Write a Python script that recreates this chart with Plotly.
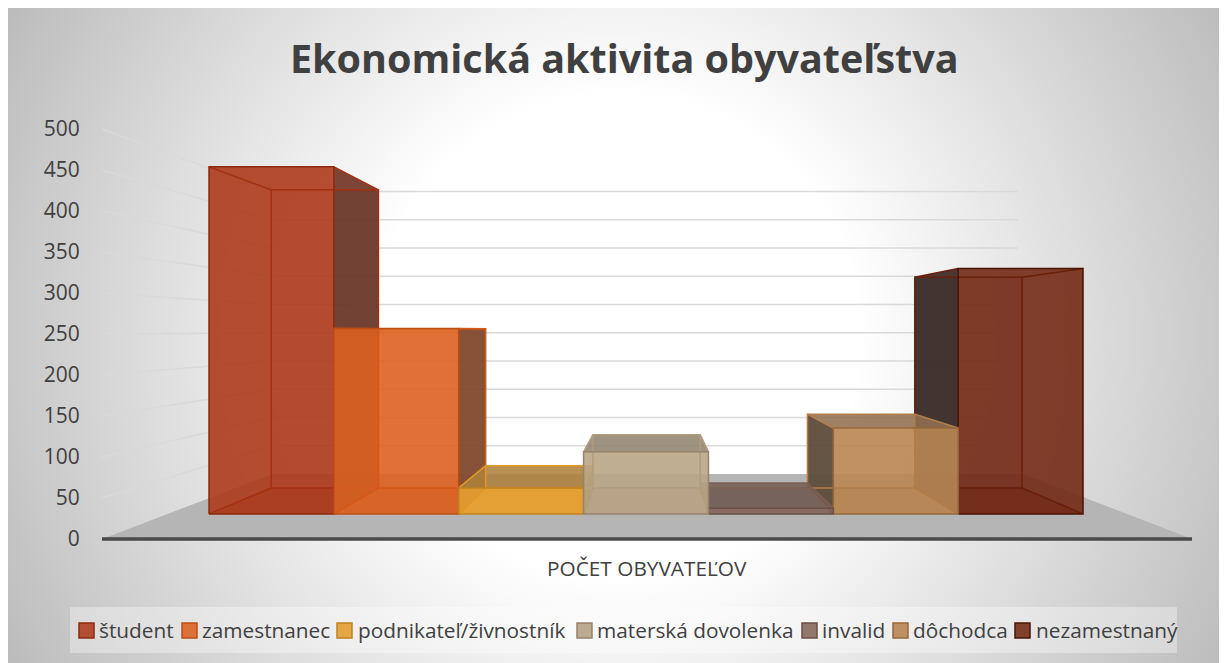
import base64
import plotly.graph_objects as go

# ---- data ----
categories = ["študent", "zamestnanec", "podnikateľ/živnostník", "materská dovolenka",
              "invalid", "dôchodca", "nezamestnaný"]
values = [481, 257, 36, 86, 8, 119, 340]
colors = ["#A5300F", "#D55816", "#E19825", "#B19C7D", "#7F5F52", "#B27D49", "#6A1F09"]
edges = ["#8F2A0C", "#BC4E12", "#C0821E", "#96836A", "#6B4F44", "#96683A", "#4A1404"]
y_ticks = [0, 50, 100, 150, 200, 250, 300, 350, 400, 450, 500]
title_text = "Ekonomická aktivita obyvateľstva"
x_title = "POČET OBYVATEĽOV"
legend_swatch_x = [79, 182, 337, 577, 802, 893, 1015]
legend_text_x = [99, 202, 358, 597, 822, 913, 1036]

# ---- geometry of page / plot ----
OFF = 8                     # browser body margin
W, H = 1219, 655
PL, PR, PT, PB = 100, 1196, 118, 548   # plot area, page pixels
PX_PER_VALUE = 0.82
Y0 = 539
XU = 124.86                 # px of one category at the bar front plane
X0 = 209
HORIZON_PX = 330
CENTER_PX = 650
S_AXIS, S_FRONT, S_BACK, S_WALL = 1.0, 0.88, 0.756, 0.689
FONT = "Open Sans"
TXT = "#404040"

v0 = (Y0 - HORIZON_PX) / PX_PER_VALUE
xc = (CENTER_PX - X0) / XU


def proj(x, v, s):
    return xc + (x - xc) * s / S_FRONT, v0 + (v - v0) * s


def poly(points):
    xs, ys = zip(*[proj(*p) for p in points])
    return list(xs) + [xs[0]], list(ys) + [ys[0]]


def rgb(hexcol):
    return tuple(int(hexcol[i:i + 2], 16) for i in (1, 3, 5))


def shade(hexcol, k, a):
    """darken by k, then lift a little towards white as the picture's glass faces do"""
    r, g, b = rgb(hexcol)
    return f"rgba({r * k * .85 + 38:.0f},{g * k * .85 + 38:.0f},{b * k * .85 + 38:.0f},{a})"


def front(hexcol, a):
    r, g, b = rgb(hexcol)
    return f"rgba({min(r + 8, 255)},{g + 9},{b + 10},{a})"


def fx(px):
    return (px - PL) / (PR - PL)


def fy(py):
    return (PB - py) / (PB - PT)


fig = go.Figure()

# floor
xl_world = xc + (102 - CENTER_PX) * S_FRONT / XU
xr_world = xc + (1192 - CENTER_PX) * S_FRONT / XU
xr_grid = xc + (1018 - CENTER_PX) / S_WALL * S_FRONT / XU
fx_, fy_ = poly([(xl_world, 0, S_AXIS), (xr_world, 0, S_AXIS), (xr_world, 0, S_WALL), (xl_world, 0, S_WALL)])
fig.add_trace(go.Scatter(x=fx_, y=fy_, fill="toself", mode="none", fillcolor="#b5b5b5",
                         hoverinfo="skip", showlegend=False))

# walls' grid lines
for t in y_ticks[1:]:
    gx, gy = zip(*[proj(xl_world, t, S_AXIS), proj(xl_world, t, S_WALL), proj(xr_grid, t, S_WALL)])
    fig.add_trace(go.Scatter(x=gx, y=gy, mode="lines", line=dict(color="#d9d9d9", width=1.5),
                             hoverinfo="skip", showlegend=False))

# axis line
ax, ay = zip(*[proj(xl_world, 0, S_AXIS), proj(xr_world, 0, S_AXIS)])
fig.add_trace(go.Scatter(x=ax, y=ay, mode="lines", line=dict(color="#4a4a4a", width=3.5),
                         hoverinfo="skip", showlegend=False))

# bars: outermost first so that the inner ones lie on top
n = len(values)
order = sorted(range(n), key=lambda i: -abs(i + 0.5 - xc))
for i in order:
    v, c, e = values[i], colors[i], edges[i]
    a, b = i, i + 1
    light = (c, 1, .15)
    k_vis = 0.5 if i < xc else (0.22 if i == 6 else 0.37)
    left_style = (c, k_vis, .95) if a > xc else light      # visible only right of the centre
    right_style = (c, k_vis, .95) if b < xc else light     # visible only left of the centre
    top_style = (c, 1, .15) if v > v0 else (c, .7, .85)    # above the horizon the top lies behind the front
    faces = [
        ([(a, 0, S_BACK), (b, 0, S_BACK), (b, v, S_BACK), (a, v, S_BACK)], shade(c, 1, .25)),        # back
        ([(a, 0, S_FRONT), (b, 0, S_FRONT), (b, 0, S_BACK), (a, 0, S_BACK)], shade(c, .8, .7)),      # bottom
        ([(a, 0, S_FRONT), (a, v, S_FRONT), (a, v, S_BACK), (a, 0, S_BACK)], shade(*left_style)),    # left
        ([(b, 0, S_FRONT), (b, v, S_FRONT), (b, v, S_BACK), (b, 0, S_BACK)], shade(*right_style)),   # right
        ([(a, v, S_FRONT), (b, v, S_FRONT), (b, v, S_BACK), (a, v, S_BACK)], shade(*top_style)),     # top
        ([(a, 0, S_FRONT), (b, 0, S_FRONT), (b, v, S_FRONT), (a, v, S_FRONT)], front(c, .88)),       # front
    ]
    for pts, fc in faces:
        px_, py_ = poly(pts)
        fig.add_trace(go.Scatter(x=px_, y=py_, fill="toself", fillcolor=fc, mode="none",
                                 name=categories[i], showlegend=False, hoverinfo="name"))
    # edges of the box: the far ones first, then the near rectangle
    ex, ey = [], []
    far_edges = [[(a, 0, S_BACK), (b, 0, S_BACK), (b, v, S_BACK), (a, v, S_BACK), (a, 0, S_BACK)]]
    far_edges += [[(p, w, S_FRONT), (p, w, S_BACK)] for p in (a, b) for w in (0, v)]
    for seg in far_edges:
        sx_, sy_ = zip(*[proj(*p) for p in seg])
        ex += list(sx_) + [None]
        ey += list(sy_) + [None]
    fig.add_trace(go.Scatter(x=ex, y=ey, mode="lines", line=dict(color=c, width=1.5),
                             hoverinfo="skip", showlegend=False))
    nx, ny = poly([(a, 0, S_FRONT), (b, 0, S_FRONT), (b, v, S_FRONT), (a, v, S_FRONT)])
    fig.add_trace(go.Scatter(x=nx, y=ny, mode="lines", line=dict(color=e, width=1.5),
                             hoverinfo="skip", showlegend=False))

# radial background
svg = (f'<svg xmlns="http://www.w3.org/2000/svg" width="{W}" height="{H}">'
       f'<defs><radialGradient id="g" gradientUnits="userSpaceOnUse" cx="{W / 2}" cy="{H / 2}" r="689">'
       '<stop offset="0.35" stop-color="#ffffff"/><stop offset="1" stop-color="#bcbcbc"/>'
       '</radialGradient></defs>'
       f'<rect width="{W}" height="{H}" fill="url(#g)"/></svg>')
bg = "data:image/svg+xml;base64," + base64.b64encode(svg.encode()).decode()

shapes = [dict(type="rect", xref="paper", yref="paper", x0=fx(70), x1=fx(1177), y0=fy(653), y1=fy(607),
               fillcolor="rgba(255,255,255,0.35)", line_width=0, layer="below")]
annotations = [
    dict(text=title_text, xref="paper", yref="paper", x=fx(624.5), y=fy(58), xanchor="center", yanchor="middle",
         showarrow=False, font=dict(family=FONT, size=39.5, color=TXT, weight="bold")),
    dict(text=x_title, xref="paper", yref="paper", x=fx(647), y=fy(568), xanchor="center", yanchor="middle",
         showarrow=False, font=dict(family=FONT, size=20.8, color=TXT)),
]
for name, c, e, sx, tx in zip(categories, colors, edges, legend_swatch_x, legend_text_x):
    shapes.append(dict(type="rect", xref="paper", yref="paper", x0=fx(sx), x1=fx(sx + 15), y0=fy(638), y1=fy(623),
                       fillcolor=shade(c, 1, 1), line=dict(color=e, width=1.5)))
    annotations.append(dict(text=name, xref="paper", yref="paper", x=fx(tx), y=fy(630), xanchor="left",
                            yanchor="middle", xshift=-2, showarrow=False,
                            font=dict(family=FONT, size=20.8, color=TXT)))

fig.update_layout(
    width=W, height=H, autosize=False, showlegend=False,
    margin=dict(l=PL - OFF, r=OFF + W - PR, t=PT - OFF, b=OFF + H - PB, pad=0),
    paper_bgcolor="rgba(0,0,0,0)", plot_bgcolor="rgba(0,0,0,0)",
    font=dict(family=FONT, color=TXT),
    xaxis=dict(visible=False, range=[(PL - X0) / XU, (PR - X0) / XU], fixedrange=True),
    yaxis=dict(range=[(Y0 - PB) / PX_PER_VALUE, (Y0 - PT) / PX_PER_VALUE], tickvals=y_ticks,
               ticks="outside", ticklen=15, tickcolor="rgba(0,0,0,0)", showgrid=False, zeroline=False,
               showline=False, tickfont=dict(family=FONT, size=21, color=TXT), fixedrange=True),
    images=[dict(source=bg, xref="paper", yref="paper", x=fx(OFF), y=fy(OFF), sizex=W / (PR - PL),
                 sizey=H / (PB - PT), xanchor="left", yanchor="top", sizing="stretch", layer="below")],
    shapes=shapes, annotations=annotations,
)
fig.write_html("out.html")
